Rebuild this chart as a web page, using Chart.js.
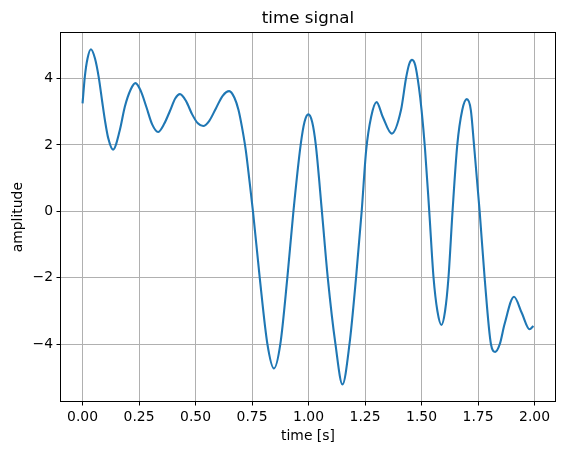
<!DOCTYPE html>
<html>
<head>
<meta charset="utf-8">
<title>time signal</title>
<script src="https://cdn.jsdelivr.net/npm/chart.js@4"></script>
<style>
    html, body { margin: 0; padding: 0; background: #fff; }
    #chart { display: block; }
</style>
</head>
<body>
<canvas id="chart" width="565" height="455"></canvas>
<script>
// Values
const timeValues = [
    0.000, 0.010, 0.022, 0.037, 0.055, 0.072, 0.087, 0.100, 0.113, 0.135,
    0.165, 0.187, 0.213, 0.234, 0.258, 0.282, 0.308, 0.334, 0.360, 0.387,
    0.410, 0.431, 0.458, 0.485, 0.510, 0.534, 0.560, 0.590, 0.620, 0.649,
    0.672, 0.690, 0.705, 0.722, 0.738, 0.754, 0.784, 0.818, 0.847, 0.875,
    0.906, 0.933, 0.965, 0.982, 0.999, 1.016, 1.032, 1.059, 1.085, 1.119,
    1.150, 1.181, 1.210, 1.235, 1.255, 1.277, 1.301, 1.328, 1.368, 1.409,
    1.431, 1.445, 1.458, 1.472, 1.488, 1.500, 1.515, 1.534, 1.553, 1.570,
    1.588, 1.604, 1.619, 1.637, 1.658, 1.680, 1.700, 1.718, 1.732, 1.757,
    1.779, 1.807, 1.826, 1.846, 1.867, 1.909, 1.944, 1.978, 1.995
];
const amplitudeValues = [
    3.25, 4.05, 4.60, 4.88, 4.60, 4.02, 3.30, 2.70, 2.22, 1.86,
    2.45, 3.15, 3.67, 3.86, 3.62, 3.15, 2.62, 2.39, 2.62, 3.03,
    3.40, 3.53, 3.32, 2.92, 2.65, 2.57, 2.72, 3.10, 3.48, 3.62,
    3.42, 3.05, 2.55, 1.85, 0.95, 0.00, -2.00, -4.00, -4.73, -4.00,
    -2.00, 0.00, 2.00, 2.69, 2.92, 2.69, 2.00, 0.00, -2.00, -4.00,
    -5.21, -4.00, -2.00, 0.00, 1.85, 2.85, 3.29, 2.85, 2.34, 3.05,
    4.00, 4.43, 4.56, 4.40, 3.75, 3.05, 1.90, 0.00, -2.00, -3.00,
    -3.42, -3.00, -2.00, 0.00, 2.00, 3.05, 3.38, 3.05, 2.00, 0.00,
    -2.00, -4.00, -4.23, -4.00, -3.40, -2.57, -3.07, -3.55, -3.45
];

const xTickValues = [0, 0.25, 0.5, 0.75, 1.0, 1.25, 1.5, 1.75, 2.0];
const xTickLabels = ['0.00', '0.25', '0.50', '0.75', '1.00', '1.25', '1.50', '1.75', '2.00'];
const yTickValues = [-4, -2, 0, 2, 4];
const yTickLabels = ['\u22124', '\u22122', '0', '2', '4'];

const fontFamily = '"DejaVu Sans", sans-serif';

// Full box around the plot area, like matplotlib spines
const frameBox = {
    id: 'frameBox',
    afterDatasetsDraw(chart) {
        const { ctx, chartArea } = chart;
        const left = Math.round(chartArea.left) + 0.5;
        const top = Math.round(chartArea.top) + 0.5;
        const right = Math.round(chartArea.right) - 0.5;
        const bottom = Math.round(chartArea.bottom) - 0.5;
        ctx.save();
        ctx.strokeStyle = '#000';
        ctx.lineWidth = 1;
        ctx.strokeRect(left, top, right - left, bottom - top);
        ctx.restore();
    }
};

Chart.defaults.color = '#000';
Chart.defaults.font.family = fontFamily;

const ctx = document.getElementById('chart').getContext('2d');
new Chart(ctx, {
    type: 'line',
    data: {
        datasets: [{
            label: 'signal',
            data: timeValues.map((t, i) => ({ x: t, y: amplitudeValues[i] })),
            borderColor: '#1f77b4',
            borderWidth: 2.1,
            pointRadius: 0,
            fill: false,
            cubicInterpolationMode: 'monotone'
        }]
    },
    options: {
        responsive: false,
        devicePixelRatio: 1,
        animation: false,
        layout: { padding: { right: 9 } },
        scales: {
            x: {
                type: 'linear',
                min: -0.0998,
                max: 2.0948,
                afterBuildTicks: scale => {
                    scale.ticks = xTickValues.map(v => ({ value: v }));
                },
                afterFit: scale => { scale.height = 53; },
                ticks: {
                    autoSkip: false,
                    maxRotation: 0,
                    padding: 4,
                    font: { size: 13.9 },
                    callback: (value, index) => xTickLabels[index]
                },
                grid: {
                    color: '#b0b0b0',
                    lineWidth: 1,
                    tickColor: '#000',
                    tickWidth: 1,
                    tickLength: 3.5
                },
                border: { display: false },
                title: {
                    display: true,
                    text: 'time [s]',
                    font: { size: 13.9 },
                    padding: { top: 0, bottom: 10.4 }
                }
            },
            y: {
                type: 'linear',
                min: -5.74,
                max: 5.39,
                afterBuildTicks: scale => {
                    scale.ticks = yTickValues.map(v => ({ value: v }));
                },
                afterFit: scale => { scale.width = 60; },
                ticks: {
                    autoSkip: false,
                    padding: 3.5,
                    font: { size: 13.9 },
                    callback: (value, index) => yTickLabels[index]
                },
                grid: {
                    color: '#b0b0b0',
                    lineWidth: 1,
                    tickColor: '#000',
                    tickWidth: 1,
                    tickLength: 3.5
                },
                border: { display: false },
                title: {
                    display: true,
                    text: 'amplitude',
                    font: { size: 13.9 },
                    padding: { top: 9.6, bottom: 0 }
                }
            }
        },
        plugins: {
            legend: { display: false },
            tooltip: { enabled: false },
            title: {
                display: true,
                fullSize: false,   // centre over the plot area, not the canvas
                text: 'time signal',
                color: '#000',
                font: { size: 16.7, weight: 'normal' },
                padding: { top: 8.5, bottom: 3.8 }
            }
        }
    },
    plugins: [frameBox]
});
</script>
</body>
</html>
